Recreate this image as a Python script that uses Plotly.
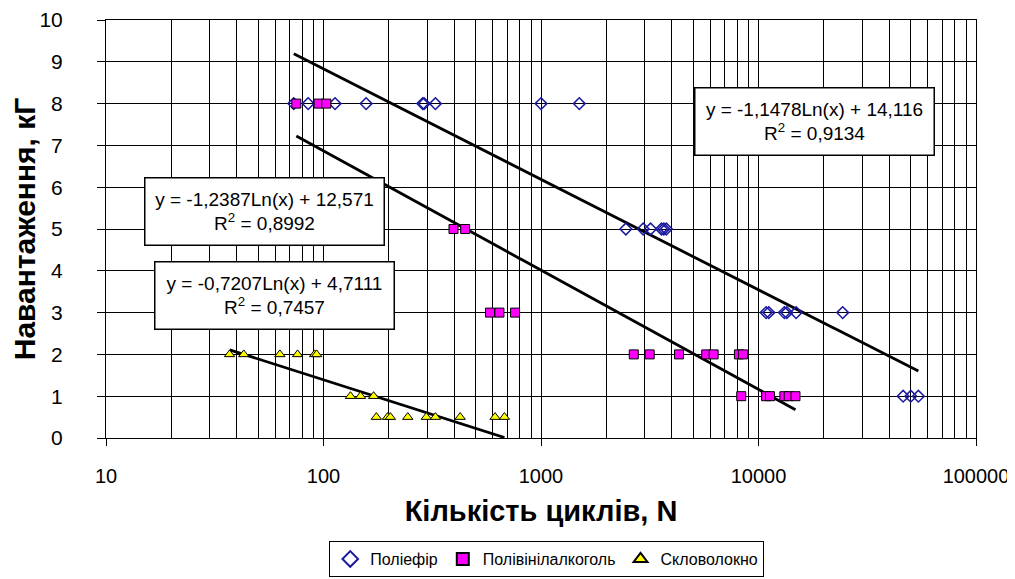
import numpy as np
import plotly.graph_objects as go

# --- data ---
poly_x = [73, 85, 113, 157, 286, 290, 327, 1000, 1500,
          2455, 2950, 3190, 3580, 3670, 3770,
          10840, 11150, 13150, 13490, 14890, 24380,
          46240, 50140, 54330]
poly_y = [8, 8, 8, 8, 8, 8, 8, 8, 8,
          5, 5, 5, 5, 5, 5,
          3, 3, 3, 3, 3, 3,
          1, 1, 1]

pva_x = [75, 95, 103, 396, 448, 583, 644, 760,
         2670, 3160, 4310, 5750, 6220, 8130, 8480,
         8330, 10840, 11300, 13150, 13770, 14790]
pva_y = [8, 8, 8, 5, 5, 3, 3, 3,
         2, 2, 2, 2, 2, 2, 2,
         1, 1, 1, 1, 1, 1]

glass_x = [37, 43, 63, 76, 91, 93, 133, 148, 170,
           175, 197, 203, 244, 297, 327, 425, 615, 679]
glass_y = [2, 2, 2, 2, 2, 2, 1, 1, 1,
           0.5, 0.5, 0.5, 0.5, 0.5, 0.5, 0.5, 0.5, 0.5]

series_names = ["Поліефір", "Полівінілалкоголь", "Скловолокно"]
# trendline coefficients y = a*ln(x) + b, and R^2
trend_a = [-1.1478, -1.2387, -0.7207]
trend_b = [14.116, 12.571, 4.7111]
trend_r2 = ["0,9134", "0,8992", "0,7457"]
trend_a_txt = ["-1,1478", "-1,2387", "-0,7207"]
trend_b_txt = ["14,116", "12,571", "4,7111"]

x_tick_vals = [10, 100, 1000, 10000, 100000]
x_tick_text = ["10", "100", "1000", "10000", "100000"]

FONT = "Liberation Sans, Arial"

fig = go.Figure()

xs_all = [poly_x, pva_x, glass_x]
# trendlines first (under markers)
for i, xs in enumerate(xs_all):
    tx = np.geomspace(min(xs), max(xs), 200)
    ty = trend_a[i] * np.log(tx) + trend_b[i]
    fig.add_trace(go.Scatter(x=tx, y=ty, mode="lines",
                             line=dict(color="black", width=2.8),
                             showlegend=False, hoverinfo="skip"))

fig.add_trace(go.Scatter(x=poly_x, y=poly_y, mode="markers", name=series_names[0],
                         marker=dict(symbol="diamond-open", size=9, color="#1a1aa0",
                                     line=dict(width=1.5, color="#1a1aa0"))))
fig.add_trace(go.Scatter(x=pva_x, y=pva_y, mode="markers", name=series_names[1],
                         marker=dict(symbol="square", size=9, color="#ff00ff",
                                     line=dict(width=1, color="black"))))
fig.add_trace(go.Scatter(x=glass_x, y=glass_y, mode="markers", name=series_names[2],
                         marker=dict(symbol="triangle-up", size=9, color="#ffff00",
                                     line=dict(width=1, color="black"))))

# equation boxes (centre positions in paper fractions)
box_pos = [(0.814, 0.758), (0.1825, 0.543), (0.194, 0.340)]
for i, (bx, by) in enumerate(box_pos):
    fig.add_annotation(
        xref="paper", yref="paper", x=bx, y=by, xanchor="center", yanchor="middle",
        showarrow=False,
        text=f"y = {trend_a_txt[i]}Ln(x) + {trend_b_txt[i]}<br>R<sup>2</sup> = {trend_r2[i]}",
        font=dict(family=FONT, size=19, color="black"),
        bgcolor="white", bordercolor="black", borderwidth=1.5,
        width=236, height=64, align="center")

fig.update_xaxes(
    type="log", range=[1, 5], automargin=False,
    tickvals=x_tick_vals, ticktext=x_tick_text, ticklabeloverflow="allow",
    ticks="outside", ticklen=7, tickcolor="black", ticklabelstandoff=13,
    showgrid=True, gridcolor="black", gridwidth=1,
    minor=dict(dtick="D1", showgrid=True, gridcolor="black", gridwidth=1, ticks=""),
    showline=True, linecolor="black", linewidth=1, mirror=True,
    tickfont=dict(family=FONT, size=20, color="black"),
    title=dict(text="<b>Кількість циклів, N</b>",
               font=dict(family=FONT, size=29, color="black"),
               standoff=14),
    zeroline=False)
fig.update_yaxes(
    range=[0, 10], dtick=1, automargin=False,
    ticks="outside", ticklen=8, tickcolor="black", ticklabelstandoff=30,
    showgrid=True, gridcolor="black", gridwidth=1,
    showline=True, linecolor="black", linewidth=1, mirror=True,
    tickfont=dict(family=FONT, size=21, color="black"),
    title=dict(text="<b>Навантаження, кГ</b>",
               font=dict(family=FONT, size=30, color="black"),
               standoff=0),
    zeroline=False)

# the page body adds an 8px offset, so margins are reduced to compensate
fig.update_layout(
    width=1007, height=571,
    margin=dict(l=98, r=39, t=12, b=141),
    plot_bgcolor="white", paper_bgcolor="white",
    legend=dict(orientation="h", xref="container", yref="container",
                xanchor="center", x=0.535, yanchor="top", y=0.0665,
                bordercolor="black", borderwidth=1, bgcolor="white",
                font=dict(family=FONT, size=16, color="black"),
                itemsizing="constant", itemwidth=30),
)

fig.write_html("out.html")
